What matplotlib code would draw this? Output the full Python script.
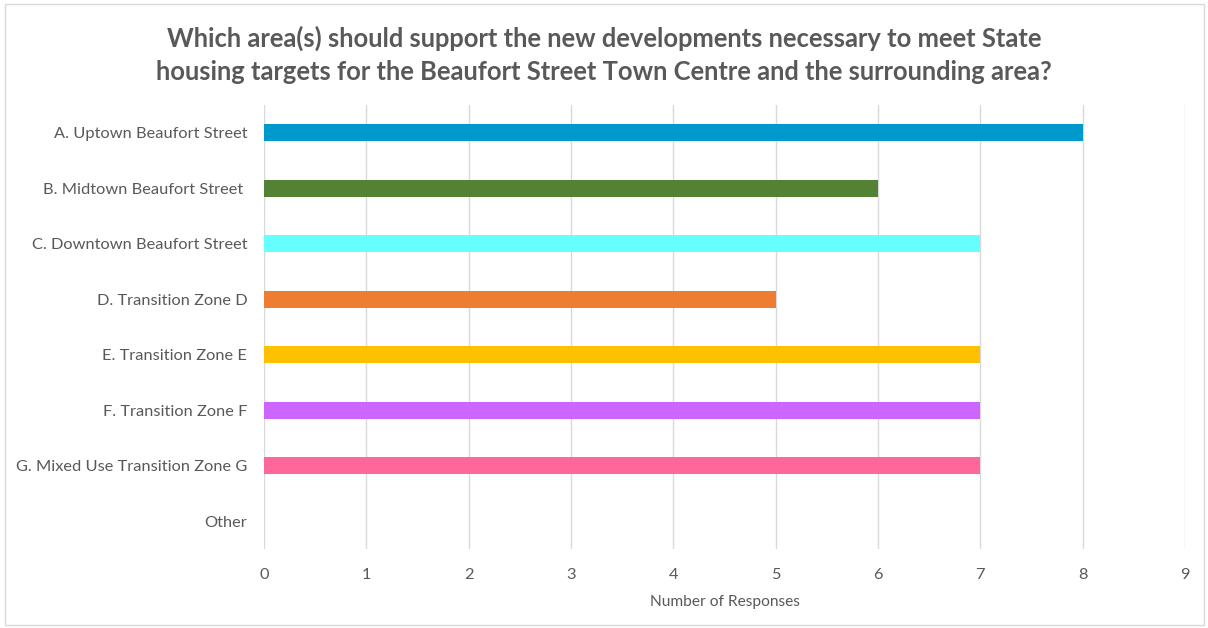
import matplotlib.pyplot as plt
from matplotlib.patches import Rectangle

categories = [
    'A. Uptown Beaufort Street',
    'B. Midtown Beaufort Street ',
    'C. Downtown Beaufort Street',
    'D. Transition Zone D',
    'E. Transition Zone E',
    'F. Transition Zone F',
    'G. Mixed Use Transition Zone G',
    'Other',
]
responses = [8, 6, 7, 5, 7, 7, 7, 0]
colors = ['#0099CC', '#548235', '#66FFFF', '#ED7D31', '#FFC000', '#CC66FF', '#FF6699', '#FFFFFF']
ticks = list(range(10))

title = ('Which area(s) should support the new developments necessary to meet State\n'
         'housing targets for the Beaufort Street Town Centre and the surrounding area?')

plt.rcParams['font.family'] = ['Lato', 'DejaVu Sans']
text_col = '#595959'

fig = plt.figure(figsize=(12.08, 6.28), dpi=100)
ax = fig.add_axes([264 / 1208, 1 - 549 / 628, (1185 - 264) / 1208, (549 - 105) / 628])

# outer chart frame
fig.patches.append(Rectangle((5 / 1208, 3 / 628), 1199 / 1208, 621 / 628,
                             transform=fig.transFigure, fill=False,
                             edgecolor='#D9D9D9', linewidth=1))

y = list(range(len(categories)))
ax.barh(y, responses, height=0.31, color=colors, zorder=3)

ax.set_xlim(0, 9)
ax.set_ylim(len(categories) - 0.5, -0.5)
ax.set_xticks(ticks)
ax.set_yticks(y)
ax.set_yticklabels(categories)
ax.tick_params(axis='both', length=0, labelsize=11.8, colors=text_col)
ax.tick_params(axis='x', pad=14)
ax.tick_params(axis='y', pad=12)
ax.grid(axis='x', color='#D9D9D9', linewidth=1, zorder=0)
for s in ax.spines.values():
    s.set_visible(False)

ax.set_xlabel('Number of Responses', fontsize=11.2, color=text_col, labelpad=9)
fig.text(0.5, 1 - 55 / 628, title, ha='center', va='center', fontsize=18.4,
         fontweight='bold', color=text_col, linespacing=1.42)

fig.savefig('out.png', dpi=100, facecolor='white')
